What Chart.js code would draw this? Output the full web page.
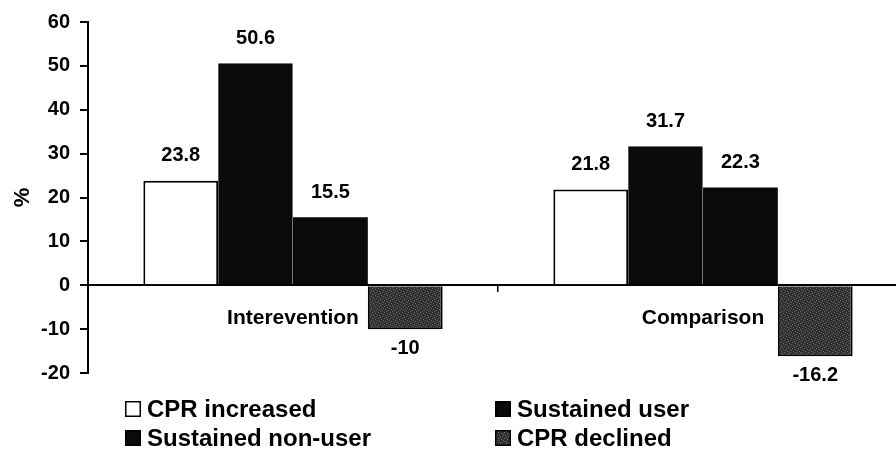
<!DOCTYPE html>
<html>
<head>
<meta charset="utf-8">
<script src="https://cdn.jsdelivr.net/npm/chart.js@4.4.0/dist/chart.umd.min.js"></script>
<style>
    html, body { margin: 0; padding: 0; background: #fff; overflow: hidden; }
    .wrap { width: 908px; height: 451px; }
</style>
</head>
<body>
<div class="wrap"><canvas id="grafico"></canvas></div>
<script>
// Dados do gráfico
const categorias = ["Interevention", "Comparison"];
const cprIncreased = [23.8, 21.8];
const sustainedUser = [50.6, 31.7];
const sustainedNonUser = [15.5, 22.3];
const cprDeclined = [-10, -16.2];
const yMin = -20;
const yMax = 60;
const yPasso = 10;

const fonte = '"Liberation Sans", Arial, sans-serif';
Chart.defaults.font.family = fonte;

// Padrão pontilhado cinza para "CPR declined"
function padraoCinza() {
    const c = document.createElement("canvas");
    c.width = 6;
    c.height = 6;
    const g = c.getContext("2d");
    g.fillStyle = "#303030";
    g.fillRect(0, 0, 6, 6);
    g.fillStyle = "#6a6a6a";
    [[0, 0], [3, 1], [1, 3], [4, 4], [2, 5], [5, 2]].forEach(([x, y]) => g.fillRect(x, y, 1, 1));
    return g.createPattern(c, "repeat");
}

// Rótulos de valor em cima/embaixo das barras
const rotulosPlugin = {
    id: "rotulos",
    afterDatasetsDraw(chart) {
        const ctx = chart.ctx;
        ctx.save();
        ctx.font = "bold 20px " + fonte;
        ctx.fillStyle = "#000";
        ctx.textAlign = "center";
        ctx.textBaseline = "middle";
        chart.data.datasets.forEach((ds, i) => {
            chart.getDatasetMeta(i).data.forEach((bar, j) => {
                const v = ds.data[j];
                const y = v >= 0 ? bar.y - 25 : bar.y + 19;
                ctx.fillText(String(v), bar.x, y);
            });
        });
        ctx.restore();
    }
};

// Legenda em duas colunas
const legendaPlugin = {
    id: "legendaGrade",
    afterDraw(chart) {
        const ctx = chart.ctx;
        const pos = [[125, 417], [495, 417], [125, 446], [495, 446]];
        chart.data.datasets.forEach((ds, i) => {
            const [x, base] = pos[i];
            ctx.save();
            ctx.fillStyle = ds.backgroundColor;
            ctx.fillRect(x, base - 16, 16, 16);
            ctx.lineWidth = 1.5;
            ctx.strokeStyle = "#000";
            ctx.strokeRect(x + 0.75, base - 15.25, 14.5, 14.5);
            ctx.fillStyle = "#000";
            ctx.font = "bold 24px " + fonte;
            ctx.textBaseline = "alphabetic";
            ctx.fillText(ds.label, x + 22, base);
            ctx.restore();
        });
    }
};

const ctx = document.getElementById("grafico").getContext("2d");
new Chart(ctx, {
    type: "bar",
    data: {
        labels: categorias,
        datasets: [
            { label: "CPR increased", data: cprIncreased, backgroundColor: "#fff", borderColor: "#000", borderWidth: 2 },
            { label: "Sustained user", data: sustainedUser, backgroundColor: "#0a0a0a", borderColor: "#777",
              borderWidth: { top: 0, left: 0, bottom: 0, right: 1 } },
            { label: "Sustained non-user", data: sustainedNonUser, backgroundColor: "#0a0a0a", borderWidth: 0 },
            { label: "CPR declined", data: cprDeclined, backgroundColor: padraoCinza(), borderColor: "#000", borderWidth: 2 }
        ]
    },
    options: {
        responsive: true,
        maintainAspectRatio: false,
        animation: false,
        layout: { padding: { top: 21, bottom: 78, left: 0, right: 0 } },
        datasets: { bar: { categoryPercentage: 0.73, barPercentage: 1.0 } },
        plugins: {
            legend: { display: false },
            tooltip: { enabled: false }
        },
        scales: {
            x: {
                position: { y: 0 },
                offset: true,
                z: 1,
                border: { color: "#000", width: 2 },
                grid: { drawOnChartArea: false, offset: true, tickLength: 6, color: "#000", lineWidth: 1.5 },
                ticks: { color: "#000", font: { size: 21, weight: "bold" }, padding: 14, maxRotation: 0 }
            },
            y: {
                min: yMin,
                max: yMax,
                afterFit: (s) => { s.width = 88; },
                border: { color: "#000", width: 2 },
                grid: { drawOnChartArea: false, drawTicks: true, tickLength: 8, color: "#000", lineWidth: 2 },
                ticks: { stepSize: yPasso, color: "#000", font: { size: 20, weight: "bold" }, padding: 10 },
                title: { display: true, text: "%", color: "#000", font: { size: 22, weight: "bold" }, padding: { top: 10, bottom: 0 } }
            }
        }
    },
    plugins: [rotulosPlugin, legendaPlugin]
});
</script>
</body>
</html>
